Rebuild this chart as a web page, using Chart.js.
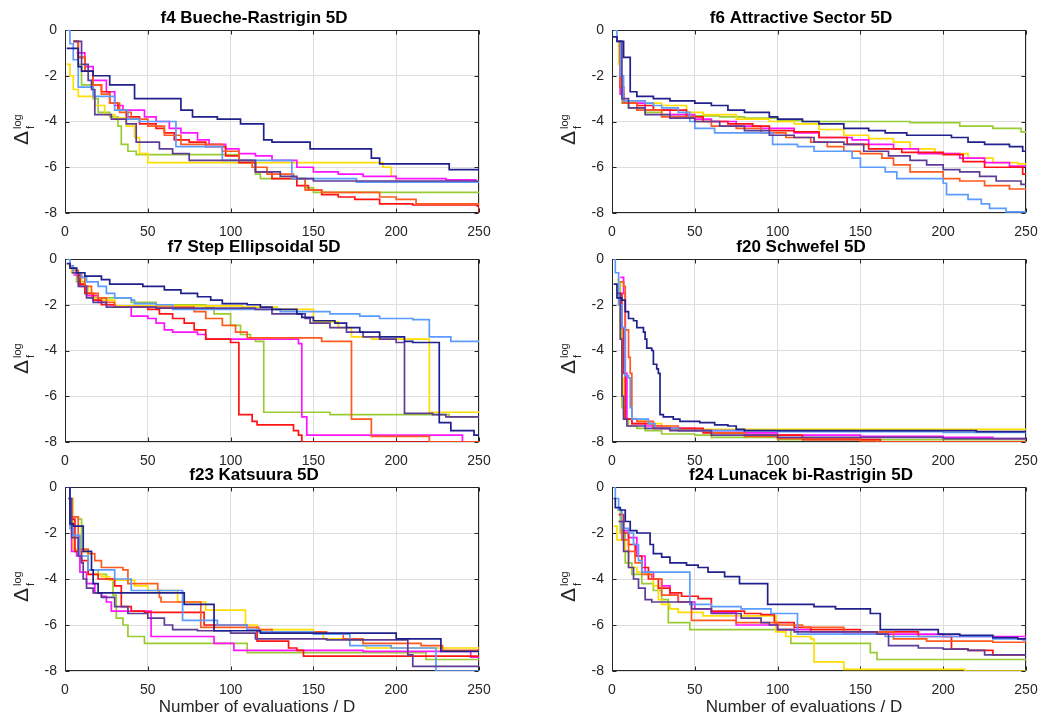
<!DOCTYPE html>
<html>
<head>
<meta charset="utf-8">
<script src="https://cdn.jsdelivr.net/npm/chart.js@4.4.0/dist/chart.umd.min.js"></script>
<style>
  body { margin: 0; background: #fff; width: 1039px; height: 720px; overflow: hidden; position: relative; }
  canvas { position: absolute; }
</style>
</head>
<body>
<canvas id="f4" width="494" height="245" style="left:0;top:0"></canvas>
<canvas id="f6" width="494" height="245" style="left:547px;top:0"></canvas>
<canvas id="f7" width="494" height="245" style="left:0;top:229px"></canvas>
<canvas id="f20" width="494" height="245" style="left:547px;top:229px"></canvas>
<canvas id="f23" width="494" height="263" style="left:0;top:457px"></canvas>
<canvas id="f24" width="494" height="263" style="left:547px;top:457px"></canvas>
<script>
// axis ticks shared by every panel
const xTicks = [0, 50, 100, 150, 200, 250]
const yTicks = [-8, -6, -4, -2, 0]
const seriesColors = ["#20208c", "#5e3c96", "#5c9cff", "#ff5a1e", "#ff1414", "#ff14ff", "#ffdd00", "#99cc33"]

// best-so-far traces, [evaluations / D, log delta f]; each pair marks where a new level starts
const f4Navy = [[1,-0.8],[8,-1.6],[10,-1.8],[17,-2.0],[27,-2.4],[42,-3.0],[70,-3.5],[77,-3.8],[92,-3.9],[106,-4.1],[120,-4.8],[125,-4.9],[148,-5.2],[185,-5.6],[190,-5.85],[232,-6.1],[250,-6.2]]
const f4Purple = [[5,-0.5],[10,-1.5],[14,-2.2],[16,-2.6],[18,-3.7],[28,-3.9],[37,-4.1],[43,-4.9],[57,-5.2],[65,-5.4],[75,-5.7],[115,-6.2],[130,-6.4],[140,-6.5],[150,-6.6],[250,-6.6]]
const f4Blue = [[1,0],[3,-0.6],[5,-1.3],[8,-2.5],[17,-2.9],[30,-3.5],[38,-3.9],[45,-4.0],[67,-5.1],[95,-5.7],[137,-6.5],[176,-6.65],[250,-6.65]]
const f4Orange = [[5,-0.5],[8,-1.2],[12,-1.8],[17,-2.4],[22,-2.8],[27,-3.2],[33,-3.6],[40,-3.9],[50,-4.2],[60,-4.6],[70,-5.0],[95,-5.3],[105,-5.7],[113,-6.0],[122,-6.3],[138,-6.5],[145,-7.0],[155,-7.1],[190,-7.3],[200,-7.4],[212,-7.6],[250,-7.65]]
const f4Red = [[5,-0.5],[8,-1.2],[12,-1.8],[17,-2.4],[22,-2.7],[27,-3.2],[32,-3.5],[37,-3.8],[45,-4.1],[55,-4.3],[60,-4.5],[66,-4.8],[75,-4.9],[85,-5.1],[97,-5.5],[105,-5.8],[115,-6.2],[125,-6.5],[140,-6.8],[147,-7.0],[155,-7.2],[165,-7.3],[175,-7.4],[190,-7.6],[210,-7.65],[249,-7.7],[250,-8]]
const f4Magenta = [[7,-1.0],[12,-1.6],[17,-2.2],[25,-2.7],[30,-3.3],[35,-3.5],[48,-3.8],[55,-4.0],[63,-4.3],[70,-4.5],[80,-4.8],[87,-5.0],[97,-5.2],[105,-5.4],[115,-5.5],[125,-5.7],[140,-6.0],[150,-6.2],[165,-6.3],[180,-6.4],[200,-6.5],[230,-6.55],[248,-6.65],[250,-6.65]]
const f4Yellow = [[1,-1.5],[3,-2.0],[5,-2.6],[8,-2.9],[18,-3.3],[24,-3.7],[30,-3.85],[37,-4.2],[42,-4.7],[45,-5.4],[50,-5.8],[192,-6.0],[197,-6.4],[200,-6.65],[250,-6.65]]
const f4Green = [[5,-0.5],[8,-1.5],[10,-2.4],[17,-3.0],[20,-3.6],[27,-3.8],[32,-4.2],[34,-5.0],[38,-5.3],[43,-5.45],[105,-5.8],[115,-6.3],[118,-6.5],[145,-6.9],[150,-7.1],[250,-7.1]]

const f6Navy = [[0,-0.3],[3,-0.5],[7,-1.2],[11,-2.7],[15,-2.9],[25,-3.0],[35,-3.1],[50,-3.2],[60,-3.3],[70,-3.5],[80,-3.6],[95,-3.8],[100,-3.9],[115,-4.0],[125,-4.1],[140,-4.3],[155,-4.4],[165,-4.5],[178,-4.6],[205,-4.7],[215,-4.9],[225,-5.0],[240,-5.1],[248,-5.3],[250,-5.3]]
const f6Purple = [[4,-0.5],[6,-3.0],[10,-3.4],[20,-3.7],[35,-3.85],[50,-4.0],[65,-4.2],[80,-4.4],[95,-4.6],[110,-4.7],[122,-4.9],[140,-5.0],[152,-5.3],[167,-5.5],[180,-5.7],[190,-5.9],[200,-6.1],[210,-6.2],[222,-6.4],[232,-6.6],[247,-6.75],[250,-6.75]]
const f6Blue = [[1,0],[3,-0.5],[5,-2.0],[7,-3.1],[20,-3.2],[25,-3.3],[30,-3.4],[40,-3.6],[47,-4.0],[50,-4.3],[62,-4.5],[97,-5.0],[112,-5.1],[122,-5.3],[145,-5.6],[150,-6.0],[165,-6.2],[172,-6.5],[200,-6.7],[202,-7.2],[215,-7.4],[223,-7.6],[228,-7.8],[238,-7.95],[250,-7.95]]
const f6Orange = [[4,-0.5],[5,-2.5],[7,-3.2],[15,-3.5],[30,-3.8],[50,-4.0],[60,-4.2],[75,-4.3],[90,-4.5],[105,-4.7],[120,-4.9],[130,-5.1],[140,-5.3],[150,-5.4],[163,-5.6],[170,-5.9],[180,-6.2],[200,-6.5],[210,-6.6],[225,-6.8],[240,-6.95],[250,-6.95]]
const f6Red = [[4,-0.5],[5,-2.5],[7,-3.2],[15,-3.3],[25,-3.5],[45,-3.8],[55,-4.0],[70,-4.1],[85,-4.2],[95,-4.4],[110,-4.45],[125,-4.7],[142,-5.0],[155,-5.2],[175,-5.35],[200,-5.45],[212,-5.75],[225,-6.0],[248,-6.3],[250,-6.3]]
const f6Magenta = [[4,-0.7],[5,-2.8],[7,-3.2],[20,-3.5],[35,-3.7],[50,-3.9],[60,-4.0],[75,-4.2],[90,-4.3],[110,-4.5],[125,-4.7],[145,-4.8],[155,-5.0],[170,-5.2],[185,-5.4],[210,-5.6],[225,-5.8],[240,-5.95],[250,-5.95]]
const f6Yellow = [[3,-0.5],[4,-1.5],[5,-2.8],[7,-3.1],[20,-3.2],[30,-3.3],[45,-3.6],[55,-3.7],[75,-3.9],[95,-4.0],[110,-4.1],[125,-4.35],[140,-4.6],[155,-4.75],[170,-4.9],[180,-5.2],[195,-5.4],[215,-5.6],[230,-5.8],[245,-5.85],[250,-5.85]]
const f6Green = [[4,-0.5],[5,-2.6],[6,-3.2],[10,-3.4],[20,-3.6],[30,-3.7],[45,-3.75],[65,-3.8],[80,-3.85],[100,-3.95],[115,-4.0],[180,-4.05],[210,-4.2],[230,-4.3],[247,-4.45],[250,-4.45]]

const f7Navy = [[1,-0.2],[3,-0.4],[7,-0.6],[12,-0.75],[22,-0.9],[27,-1.1],[47,-1.2],[60,-1.35],[70,-1.5],[80,-1.65],[88,-1.8],[95,-1.95],[110,-2.0],[118,-2.1],[125,-2.2],[140,-2.4],[143,-2.55],[150,-2.7],[163,-2.8],[170,-3.0],[178,-3.2],[190,-3.4],[205,-3.6],[210,-3.65],[226,-7.15],[233,-7.5],[247,-7.7],[250,-7.7]]
const f7Purple = [[4,-0.6],[8,-1.2],[13,-1.7],[17,-1.9],[25,-2.1],[55,-2.15],[115,-2.2],[125,-2.4],[145,-2.6],[148,-2.8],[160,-3.0],[170,-3.2],[180,-3.4],[190,-3.5],[200,-3.65],[205,-6.75],[222,-6.8],[230,-6.9],[250,-6.9]]
const f7Blue = [[1,0],[3,-0.3],[5,-0.6],[10,-0.8],[13,-1.0],[20,-1.2],[25,-1.5],[30,-1.7],[40,-1.8],[42,-1.95],[55,-2.0],[65,-2.2],[130,-2.3],[160,-2.4],[178,-2.5],[190,-2.6],[210,-2.65],[220,-3.4],[233,-3.6],[250,-3.6]]
const f7Orange = [[4,-0.5],[8,-0.8],[12,-1.2],[16,-1.5],[20,-1.7],[25,-1.9],[30,-2.1],[78,-2.3],[85,-2.6],[95,-2.9],[103,-3.2],[110,-3.45],[155,-3.6],[173,-7.0],[185,-7.75],[220,-8],[250,-8]]
const f7Red = [[5,-0.6],[9,-1.1],[12,-1.5],[17,-1.8],[22,-2.0],[30,-2.1],[50,-2.2],[57,-2.4],[65,-2.6],[72,-2.8],[78,-3.1],[85,-3.5],[100,-3.65],[105,-6.8],[113,-7.1],[116,-7.25],[138,-7.5],[141,-7.7],[143,-8],[250,-8]]
const f7Magenta = [[5,-0.7],[9,-1.2],[13,-1.6],[20,-1.9],[25,-2.0],[30,-2.1],[40,-2.5],[50,-2.6],[55,-2.8],[60,-3.1],[65,-3.2],[80,-3.3],[85,-3.5],[141,-3.7],[143,-6.9],[146,-7.7],[240,-8],[250,-8]]
const f7Yellow = [[2,-0.3],[4,-0.6],[10,-1.2],[14,-1.5],[18,-1.8],[30,-2.05],[107,-2.1],[128,-2.2],[150,-2.75],[165,-3.0],[173,-3.4],[185,-3.5],[220,-6.7],[250,-6.7]]
const f7Green = [[3,-0.4],[7,-1.0],[12,-1.5],[16,-1.7],[40,-1.9],[55,-2.0],[85,-2.1],[90,-2.4],[100,-2.9],[106,-3.3],[112,-3.5],[115,-3.6],[120,-6.7],[160,-6.8],[232,-6.9],[250,-6.9]]

const f20Navy = [[1,-1.1],[3,-1.7],[6,-1.8],[8,-2.3],[10,-2.6],[13,-2.7],[15,-3.0],[19,-3.2],[20,-3.5],[21,-3.9],[24,-4.0],[25,-4.6],[27,-4.8],[28,-5.0],[29,-6.8],[31,-6.9],[37,-7.0],[41,-7.1],[53,-7.15],[62,-7.25],[70,-7.3],[75,-7.45],[80,-7.5],[220,-7.55],[250,-7.55]]
const f20Purple = [[3,-1.5],[5,-3.5],[6,-6.0],[7,-7.0],[9,-7.3],[20,-7.4],[35,-7.5],[60,-7.7],[100,-7.8],[200,-7.85],[250,-7.85]]
const f20Blue = [[1,0],[2,-0.6],[4,-2.0],[6,-3.0],[8,-5.1],[10,-5.2],[11,-6.5],[12,-7.0],[22,-7.2],[26,-7.4],[40,-7.5],[100,-7.55],[200,-7.58],[250,-7.58]]
const f20Orange = [[5,-1.0],[7,-1.2],[8,-3.1],[10,-4.3],[11,-5.0],[12,-7.0],[15,-7.1],[25,-7.3],[40,-7.5],[60,-7.6],[80,-7.75],[100,-7.85],[150,-7.95],[160,-8],[250,-8]]
const f20Red = [[4,-1.5],[6,-3.0],[7,-5.0],[8,-7.0],[12,-7.2],[25,-7.4],[55,-7.6],[80,-7.7],[115,-7.9],[162,-8],[250,-8]]
const f20Magenta = [[5,-0.8],[7,-1.5],[8,-5.0],[9,-7.0],[12,-7.2],[20,-7.3],[30,-7.4],[50,-7.5],[80,-7.6],[100,-7.7],[150,-7.75],[200,-7.8],[230,-7.85],[250,-7.85]]
const f20Yellow = [[3,-0.9],[4,-2.0],[5,-3.5],[6,-5.2],[7,-6.8],[8,-7.0],[15,-7.1],[20,-7.2],[30,-7.3],[35,-7.45],[250,-7.45]]
const f20Green = [[4,-1.0],[5,-3.0],[6,-6.5],[7,-7.0],[10,-7.3],[15,-7.4],[20,-7.5],[30,-7.65],[50,-7.7],[60,-7.8],[100,-7.9],[250,-7.9]]

const f23Navy = [[1,0],[3,-1.6],[5,-1.7],[11,-2.8],[16,-3.6],[17,-4.2],[20,-4.6],[72,-5.1],[90,-6.25],[118,-6.35],[200,-6.6],[227,-7.15],[250,-7.15]]
const f23Purple = [[2,-0.5],[4,-2.2],[8,-3.0],[10,-3.3],[11,-4.0],[13,-4.4],[17,-4.6],[22,-4.8],[30,-5.2],[38,-5.5],[50,-5.7],[60,-6.0],[65,-6.2],[80,-6.25],[100,-6.35],[115,-6.6],[158,-6.65],[207,-7.3],[210,-7.8],[250,-7.8]]
const f23Blue = [[1,0],[3,-1.8],[5,-2.1],[9,-3.0],[14,-3.6],[30,-4.0],[40,-4.5],[71,-5.8],[92,-6.0],[110,-6.2],[117,-6.3],[150,-6.4],[172,-6.9],[197,-7.0],[224,-8],[250,-8]]
const f23Orange = [[4,-1.3],[8,-2.7],[14,-2.9],[18,-3.2],[22,-3.5],[35,-3.6],[38,-4.2],[56,-4.5],[57,-4.8],[58,-5.0],[82,-6.1],[117,-6.2],[125,-6.3],[158,-6.4],[168,-6.6],[180,-6.8],[215,-6.9],[228,-7.1],[250,-7.2]]
const f23Red = [[4,-1.4],[6,-2.8],[10,-3.2],[14,-3.8],[20,-4.0],[30,-4.3],[34,-5.2],[40,-5.4],[48,-5.45],[84,-6.0],[110,-6.2],[116,-6.7],[135,-7.0],[140,-7.1],[144,-7.35],[250,-7.35]]
const f23Magenta = [[2,-0.5],[4,-2.8],[7,-3.0],[9,-3.7],[13,-4.2],[18,-4.6],[22,-4.75],[25,-5.0],[28,-5.4],[52,-6.5],[90,-6.8],[102,-7.1],[180,-7.15],[245,-7.4],[250,-7.4]]
const f23Yellow = [[3,-0.5],[5,-2.7],[10,-2.8],[14,-3.8],[22,-3.9],[27,-4.05],[42,-4.3],[50,-4.5],[68,-5.0],[85,-5.35],[109,-6.0],[116,-6.2],[150,-6.3],[156,-6.6],[170,-6.65],[180,-6.9],[182,-7.0],[250,-7.0]]
const f23Green = [[4,-1.3],[8,-1.4],[10,-2.8],[14,-3.6],[20,-3.8],[25,-4.0],[29,-4.7],[31,-5.7],[35,-6.0],[38,-6.5],[48,-6.8],[110,-7.2],[218,-7.5],[250,-7.5]]

const f24Navy = [[1,-0.5],[2,-0.9],[5,-1.0],[8,-1.5],[11,-1.9],[15,-2.0],[23,-2.5],[25,-2.9],[30,-3.05],[35,-3.3],[45,-3.4],[52,-3.5],[58,-3.7],[68,-3.9],[77,-4.2],[94,-5.1],[122,-5.2],[135,-5.3],[156,-5.5],[162,-6.2],[197,-6.4],[210,-6.45],[230,-6.55],[245,-6.6],[250,-6.6]]
const f24Purple = [[4,-1.5],[7,-2.8],[10,-3.5],[13,-4.0],[16,-4.4],[20,-4.9],[24,-5.0],[48,-5.3],[60,-5.5],[78,-5.7],[90,-5.9],[95,-6.0],[100,-6.2],[110,-6.3],[160,-6.4],[167,-6.9],[185,-7.0],[200,-7.05],[215,-7.1],[225,-7.3],[250,-7.35]]
const f24Blue = [[1,0],[2,-0.5],[4,-1.0],[6,-1.8],[10,-2.0],[13,-2.5],[16,-3.2],[18,-3.7],[47,-5.1],[60,-5.2],[78,-5.3],[96,-5.5],[112,-6.4],[165,-6.5],[230,-6.6],[248,-6.65],[250,-6.65]]
const f24Orange = [[4,-1.5],[6,-2.3],[10,-2.8],[14,-3.3],[18,-3.8],[24,-4.0],[30,-4.7],[40,-5.0],[48,-5.8],[75,-5.9],[100,-6.0],[115,-6.1],[140,-6.3],[170,-6.6],[190,-6.7],[230,-6.75],[250,-6.75]]
const f24Red = [[4,-1.2],[7,-2.0],[10,-2.5],[14,-3.0],[18,-3.5],[22,-4.0],[28,-4.4],[35,-4.6],[42,-4.75],[52,-4.85],[60,-5.4],[80,-5.5],[90,-5.55],[98,-5.9],[110,-6.1],[120,-6.2],[150,-6.3],[185,-6.5],[205,-7.05],[215,-7.1],[230,-7.3],[250,-7.3]]
const f24Magenta = [[6,-1.9],[10,-2.2],[15,-3.0],[20,-3.7],[25,-4.0],[30,-4.3],[35,-4.7],[40,-5.0],[50,-5.3],[60,-5.45],[75,-6.0],[100,-6.2],[120,-6.3],[140,-6.4],[200,-6.5],[250,-6.5]]
const f24Yellow = [[1,-1.7],[3,-2.3],[8,-2.8],[10,-3.5],[15,-3.7],[20,-3.8],[25,-4.3],[28,-4.9],[30,-5.1],[35,-5.3],[40,-5.45],[55,-5.6],[99,-6.3],[105,-6.5],[120,-6.6],[122,-7.6],[140,-7.93],[213,-8],[250,-8]]
const f24Green = [[3,-1.0],[5,-2.0],[8,-3.3],[12,-3.8],[18,-4.2],[25,-4.5],[30,-4.9],[34,-5.9],[47,-6.2],[108,-6.8],[156,-7.2],[160,-7.5],[250,-7.5]]

const FONT = '"Liberation Sans", Arial, Helvetica, sans-serif'
const INK = "#262626"

// axes box with inward ticks under the traces; titles and labels on top
const framePlugin = {
  id: "frame",
  beforeDatasetsDraw(chart) {
    const { ctx, chartArea: a, scales } = chart
    ctx.save()
    ctx.strokeStyle = INK
    ctx.lineWidth = 1
    const L = Math.round(a.left) + 0.5
    const R = Math.round(a.right) - 0.5
    const T = Math.round(a.top) + 0.5
    const B = Math.round(a.bottom) - 0.5
    ctx.strokeRect(L, T, R - L, B - T)
    ctx.beginPath()
    xTicks.forEach((v) => {
      const px = Math.round(scales.x.getPixelForValue(v)) + 0.5
      ctx.moveTo(px, B); ctx.lineTo(px, B - 4)
      ctx.moveTo(px, T); ctx.lineTo(px, T + 4)
    })
    yTicks.forEach((v) => {
      const py = Math.round(scales.y.getPixelForValue(v)) + 0.5
      ctx.moveTo(L, py); ctx.lineTo(L + 4, py)
      ctx.moveTo(R, py); ctx.lineTo(R - 4, py)
    })
    ctx.stroke()
    ctx.restore()
  },
  afterDraw(chart, args, opts) {
    const { ctx, chartArea: a } = chart
    ctx.save()

    // title
    ctx.fillStyle = "#000"
    ctx.font = "bold 17px " + FONT
    ctx.textAlign = "center"
    ctx.textBaseline = "alphabetic"
    ctx.fillText(opts.title, a.left + 189, a.top - 7)

    // y label: Delta with superscript "log" and subscript "f"
    ctx.fillStyle = INK
    ctx.save()
    ctx.translate(a.left - 37, a.top + 115)
    ctx.rotate(-Math.PI / 2)
    ctx.textAlign = "left"
    ctx.font = "21px " + FONT
    ctx.fillText("\u0394", 0, 0)
    const dw = ctx.measureText("\u0394").width
    ctx.font = "11px " + FONT
    ctx.fillText("log", dw + 2, -7)
    ctx.fillText("f", dw + 2, 6)
    ctx.restore()

    if (opts.xLabel) {
      ctx.font = "17px " + FONT
      ctx.textAlign = "center"
      ctx.fillText("Number of evaluations / D", a.left + 192, a.bottom + 41)
    }
    ctx.restore()
  },
}

function drawPanel(canvasId, title, series, xLabel) {
  const canvas = document.getElementById(canvasId)
  new Chart(canvas.getContext("2d"), {
    type: "line",
    data: {
      datasets: series.map((points, i) => ({
        data: points,
        borderColor: seriesColors[i],
        borderWidth: 1.7,
        stepped: true,
        pointRadius: 0,
        fill: false,
      })),
    },
    options: {
      responsive: false,
      animation: false,
      events: [],
      layout: { padding: { top: 30, right: 15, left: 0, bottom: xLabel ? 17 : 0 } },
      plugins: {
        legend: { display: false },
        tooltip: { enabled: false },
        frame: { title: title, xLabel: xLabel },
      },
      scales: {
        x: {
          type: "linear",
          min: 0,
          max: 250,
          afterBuildTicks: (s) => { s.ticks = xTicks.map((v) => ({ value: v })) },
          afterFit: (s) => { s.height = 32; s.paddingLeft = 0; s.paddingRight = 0 },
          grid: { color: "#dedede", drawTicks: false },
          border: { display: false },
          ticks: { color: INK, font: { family: FONT, size: 14 }, padding: 11, maxRotation: 0 },
        },
        y: {
          type: "linear",
          min: -8,
          max: 0,
          afterBuildTicks: (s) => { s.ticks = yTicks.map((v) => ({ value: v })) },
          afterFit: (s) => { s.width = 65; s.paddingTop = 0; s.paddingBottom = 0 },
          grid: { color: "#dedede", drawTicks: false },
          border: { display: false },
          ticks: { color: INK, font: { family: FONT, size: 14 }, padding: 8 },
        },
      },
    },
    plugins: [framePlugin],
  })
}

drawPanel("f4", "f4 Bueche-Rastrigin 5D", [f4Navy, f4Purple, f4Blue, f4Orange, f4Red, f4Magenta, f4Yellow, f4Green], false)
drawPanel("f6", "f6 Attractive Sector 5D", [f6Navy, f6Purple, f6Blue, f6Orange, f6Red, f6Magenta, f6Yellow, f6Green], false)
drawPanel("f7", "f7 Step Ellipsoidal 5D", [f7Navy, f7Purple, f7Blue, f7Orange, f7Red, f7Magenta, f7Yellow, f7Green], false)
drawPanel("f20", "f20 Schwefel 5D", [f20Navy, f20Purple, f20Blue, f20Orange, f20Red, f20Magenta, f20Yellow, f20Green], false)
drawPanel("f23", "f23 Katsuura 5D", [f23Navy, f23Purple, f23Blue, f23Orange, f23Red, f23Magenta, f23Yellow, f23Green], true)
drawPanel("f24", "f24 Lunacek bi-Rastrigin 5D", [f24Navy, f24Purple, f24Blue, f24Orange, f24Red, f24Magenta, f24Yellow, f24Green], true)
</script>
</body>
</html>
